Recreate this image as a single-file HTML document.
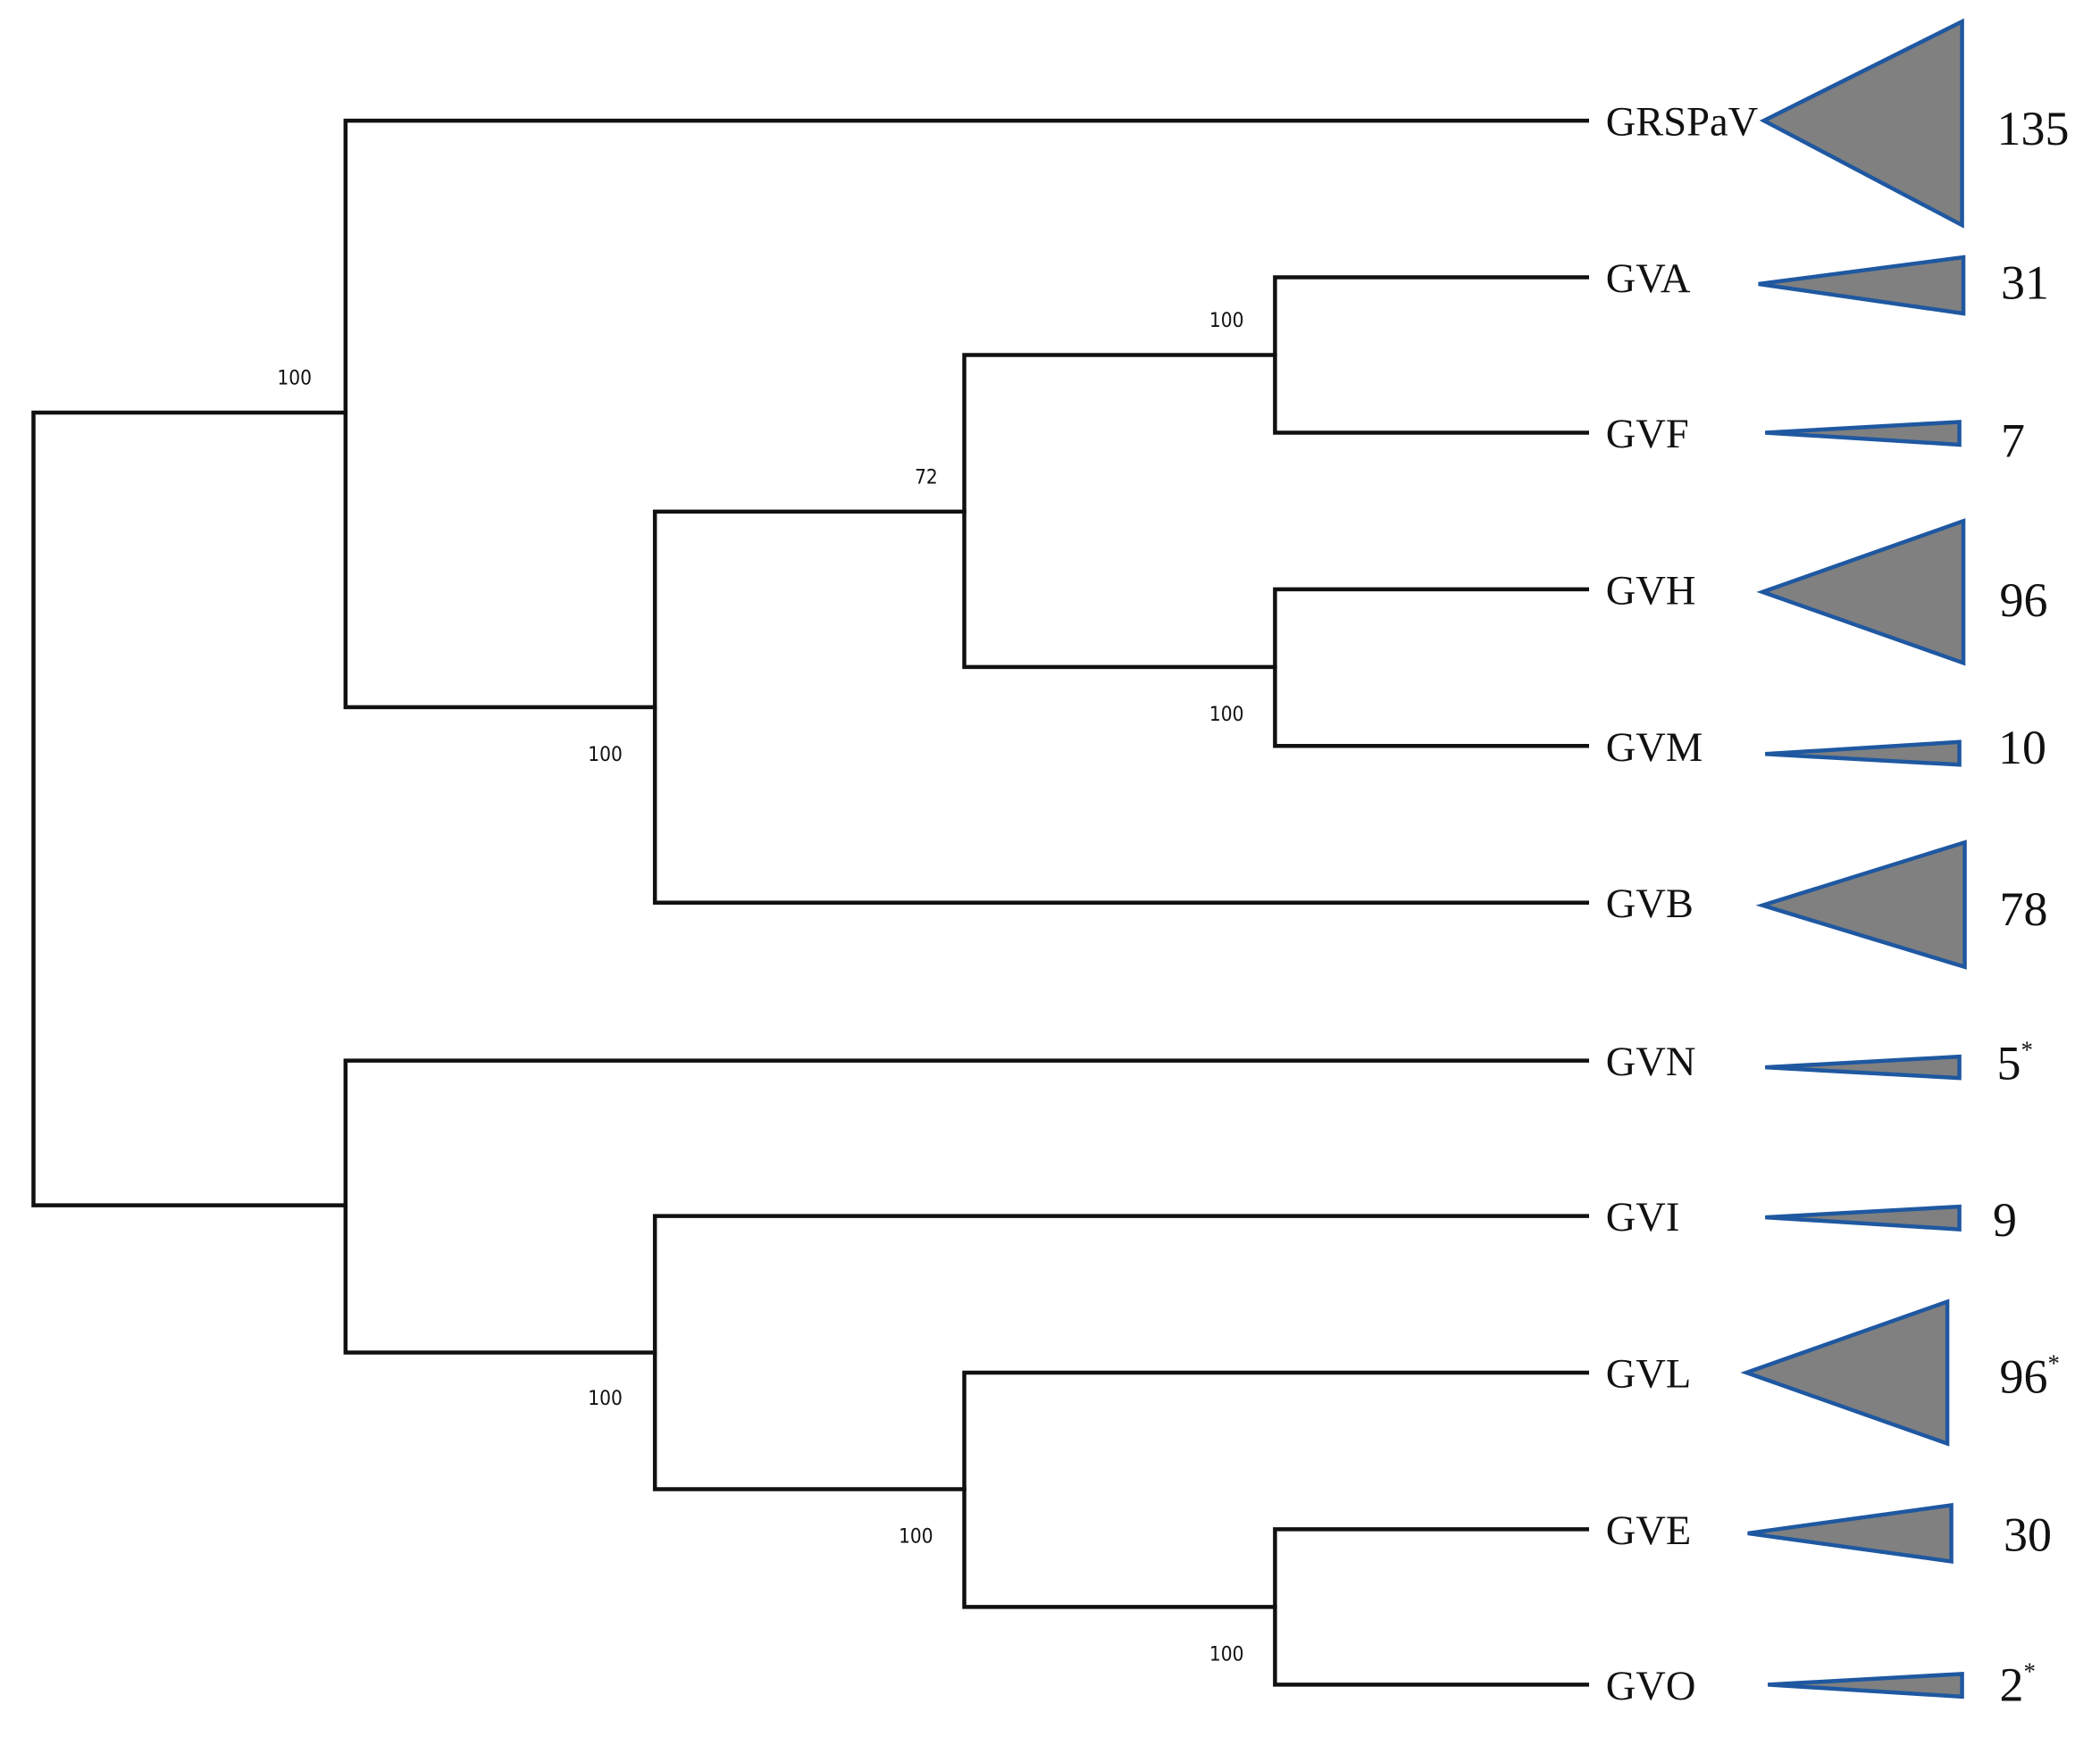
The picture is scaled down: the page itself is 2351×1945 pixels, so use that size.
<!DOCTYPE html>
<html><head><style>
html,body{margin:0;padding:0;background:#fff;}
svg{display:block;}
.b{font-family:"DejaVu Sans Condensed","Liberation Sans Narrow","Liberation Sans",sans-serif;font-size:15px;fill:#111;}
.l{font-family:"Liberation Serif",serif;font-size:31px;fill:#111;}
.n{font-family:"Liberation Serif",serif;font-size:36px;fill:#111;}
</style></head><body>
<svg width="2351" height="1945" viewBox="0 0 1568 1297" xmlns="http://www.w3.org/2000/svg">
<g stroke="#111" stroke-width="3" fill="none" stroke-linecap="square">
<path d="M258 308 H25 V900 H258"/>
<path d="M1185 90 H258 V528 H489"/>
<path d="M720 382 H489 V674 H1185"/>
<path d="M952 265 H720 V498 H952"/>
<path d="M1185 207 H952 V323 H1185"/>
<path d="M1185 440 H952 V557 H1185"/>
<path d="M1185 792 H258 V1010 H489"/>
<path d="M1185 908 H489 V1112 H720"/>
<path d="M1185 1025 H720 V1200 H952"/>
<path d="M1185 1142 H952 V1258 H1185"/>
</g>
<g class="b">
<text x="207" y="287">100</text>
<text x="903" y="244">100</text>
<text x="683" y="361">72</text>
<text x="903" y="538">100</text>
<text x="439" y="568">100</text>
<text x="439" y="1049">100</text>
<text x="671" y="1152">100</text>
<text x="903" y="1240">100</text>
</g>
<g fill="#808080" stroke="#1f58a0" stroke-width="3" stroke-linejoin="miter">
<polygon points="1317,90 1465,16 1465,168"/>
<polygon points="1313,212 1466,192 1466,234"/>
<polygon points="1318,323 1463,315 1463,332"/>
<polygon points="1316,442 1466,389 1466,495"/>
<polygon points="1318,563 1463,554 1463,571"/>
<polygon points="1316,676 1467,629 1467,722"/>
<polygon points="1318,797 1463,789 1463,805"/>
<polygon points="1318,909 1463,901 1463,918"/>
<polygon points="1304,1025 1454,972 1454,1078"/>
<polygon points="1305,1145 1457,1124 1457,1166"/>
<polygon points="1320,1258 1465,1250 1465,1267"/>
</g>
<g class="l">
<text x="1199" y="101">GRSPaV</text>
<text x="1199" y="218">GVA</text>
<text x="1199" y="334">GVF</text>
<text x="1199" y="451">GVH</text>
<text x="1199" y="568">GVM</text>
<text x="1199" y="685">GVB</text>
<text x="1199" y="803">GVN</text>
<text x="1199" y="919">GVI</text>
<text x="1199" y="1036">GVL</text>
<text x="1199" y="1153">GVE</text>
<text x="1199" y="1269">GVO</text>
</g>
<g class="n">
<text x="1491" y="108">135</text>
<text x="1494" y="223">31</text>
<text x="1494" y="341">7</text>
<text x="1493" y="460">96</text>
<text x="1492" y="570">10</text>
<text x="1493" y="691">78</text>
<text x="1491" y="806">5<tspan font-size="18" dy="-16">*</tspan></text>
<text x="1488" y="923">9</text>
<text x="1493" y="1040">96<tspan font-size="18" dy="-16">*</tspan></text>
<text x="1496" y="1158">30</text>
<text x="1493" y="1270">2<tspan font-size="18" dy="-16">*</tspan></text>
</g>
</svg>
</body></html>
